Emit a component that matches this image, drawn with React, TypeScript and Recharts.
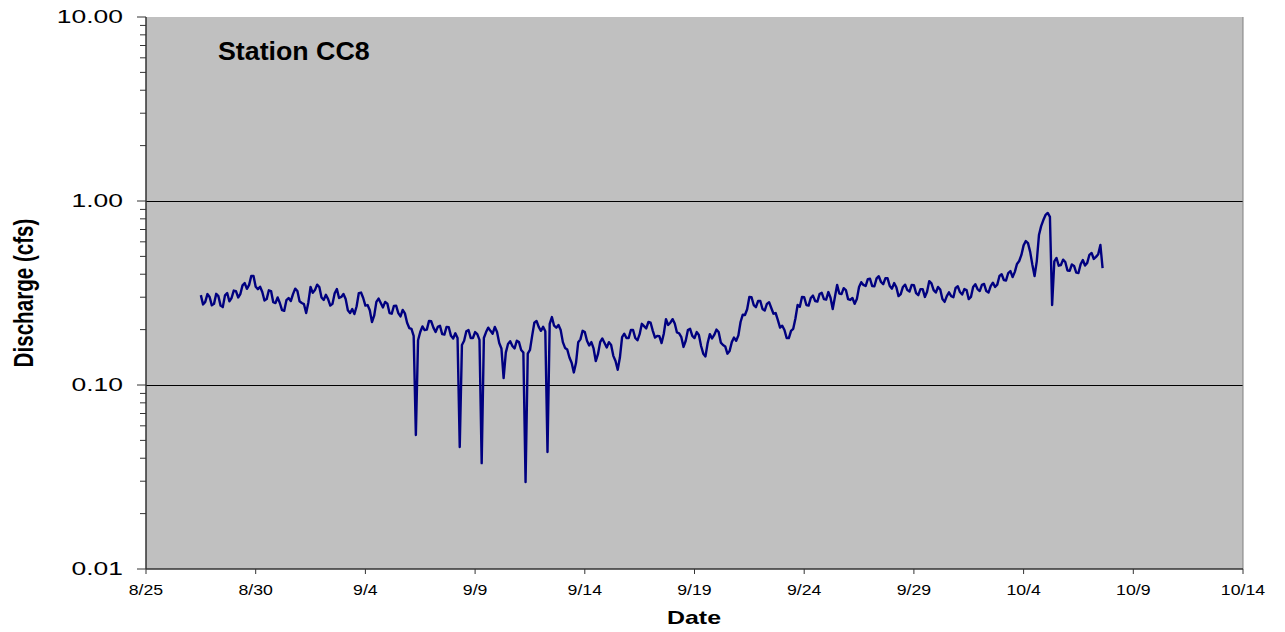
import React from 'react';
import { LineChart, Line, XAxis, YAxis, CartesianGrid, ReferenceLine, Customized } from 'recharts';

const FONT = '"Liberation Sans", Arial, Helvetica, sans-serif';

// X axis: days since 8/25
const xTickDays = [0, 5, 10, 15, 20, 25, 30, 35, 40, 45, 50];
const xTickLabels = ['8/25', '8/30', '9/4', '9/9', '9/14', '9/19', '9/24', '9/29', '10/4', '10/9', '10/14'];

// Y axis (log)
const yTicks = [
  0.01, 0.02, 0.03, 0.04, 0.05, 0.06, 0.07, 0.08, 0.09,
  0.1, 0.2, 0.3, 0.4, 0.5, 0.6, 0.7, 0.8, 0.9,
  1, 2, 3, 4, 5, 6, 7, 8, 9, 10,
];
const yMajorTicks = [0.01, 0.1, 1, 10];
const yMajorLabels = ['0.01', '0.10', '1.00', '10.00'];
const gridValues = [0.1, 1];

// Readings (cfs): first reading 8/27 12:00, main readings every 0.2 day,
// with an intermediate reading halfway between consecutive main readings.
const firstReadingDay = 2.5;
const readingStepDays = 0.2;

const dischargeAugSep = [
  0.308, 0.283, 0.301, 0.276, 0.304, 0.265, 0.316, 0.297, 0.324, 0.312,
  0.358, 0.350, 0.391, 0.332, 0.320, 0.293, 0.324, 0.279, 0.279, 0.253,
  0.297, 0.312, 0.324, 0.279, 0.246, 0.341, 0.328, 0.341, 0.290, 0.293,
  0.276, 0.332, 0.301, 0.293, 0.246, 0.243, 0.316, 0.297, 0.272, 0.220,
  0.283, 0.279, 0.283, 0.246, 0.269, 0.246, 0.256, 0.218, 0.202, 0.0535,
];
const dischargeSepEarly = [
  0.194, 0.199, 0.223, 0.205, 0.207, 0.189, 0.207, 0.185, 0.191, 0.046,
  0.174, 0.199, 0.180, 0.189, 0.0376, 0.194, 0.197, 0.207, 0.169, 0.109,
  0.167, 0.163, 0.174, 0.155, 0.0297, 0.155, 0.218, 0.207, 0.207, 0.0432,
  0.234, 0.205, 0.199, 0.159, 0.141, 0.117, 0.171, 0.197, 0.174, 0.171,
  0.135, 0.171, 0.169, 0.171, 0.144, 0.121, 0.182, 0.180, 0.199, 0.180,
];
const dischargeSepLate = [
  0.189, 0.209, 0.220, 0.197, 0.185, 0.169, 0.228, 0.218, 0.216, 0.191,
  0.161, 0.199, 0.185, 0.194, 0.163, 0.143, 0.189, 0.187, 0.194, 0.165,
  0.148, 0.171, 0.174, 0.220, 0.240, 0.301, 0.272, 0.286, 0.259, 0.276,
  0.262, 0.246, 0.205, 0.199, 0.180, 0.202, 0.272, 0.301, 0.272, 0.297,
  0.286, 0.312, 0.293, 0.320, 0.259, 0.350, 0.312, 0.328, 0.290, 0.276,
];
const dischargeSepOct = [
  0.341, 0.350, 0.376, 0.345, 0.380, 0.363, 0.380, 0.345, 0.358, 0.304,
  0.341, 0.328, 0.350, 0.316, 0.332, 0.301, 0.367, 0.328, 0.341, 0.293,
  0.304, 0.304, 0.337, 0.320, 0.332, 0.293, 0.341, 0.332, 0.350, 0.324,
  0.345, 0.341, 0.391, 0.372, 0.406, 0.386, 0.455, 0.509, 0.606, 0.529,
  0.391, 0.653, 0.788, 0.861, 0.272, 0.490, 0.449, 0.466, 0.417, 0.444,
  0.406, 0.478, 0.461, 0.522, 0.497, 0.577,
];

const midAugSep = [
  0.274, 0.312, 0.271, 0.313, 0.270, 0.307, 0.285, 0.326, 0.299, 0.348,
  0.333, 0.392, 0.342, 0.342, 0.288, 0.327, 0.282, 0.299, 0.255, 0.289,
  0.286, 0.334, 0.285, 0.275, 0.281, 0.317, 0.351, 0.299, 0.309, 0.270,
  0.315, 0.297, 0.312, 0.255, 0.259, 0.268, 0.318, 0.270, 0.255, 0.238,
  0.295, 0.264, 0.277, 0.244, 0.270, 0.236, 0.245, 0.204, 0.185, 0.175,
];
const midSepEarly = [
  0.208, 0.200, 0.222, 0.194, 0.210, 0.188, 0.206, 0.179, 0.180, 0.165,
  0.196, 0.180, 0.194, 0.176, 0.180, 0.205, 0.190, 0.194, 0.158, 0.150,
  0.173, 0.158, 0.171, 0.150, 0.148, 0.185, 0.223, 0.197, 0.196, 0.215,
  0.210, 0.212, 0.171, 0.156, 0.132, 0.132, 0.177, 0.194, 0.164, 0.158,
  0.147, 0.179, 0.160, 0.165, 0.135, 0.141, 0.190, 0.180, 0.199, 0.175,
];
const midSepLate = [
  0.215, 0.203, 0.218, 0.181, 0.184, 0.190, 0.212, 0.228, 0.193, 0.182,
  0.174, 0.202, 0.180, 0.187, 0.148, 0.169, 0.179, 0.200, 0.170, 0.162,
  0.153, 0.181, 0.186, 0.241, 0.258, 0.300, 0.265, 0.286, 0.254, 0.282,
  0.244, 0.225, 0.210, 0.180, 0.197, 0.230, 0.266, 0.300, 0.270, 0.306,
  0.284, 0.317, 0.291, 0.298, 0.301, 0.314, 0.336, 0.293, 0.297, 0.293,
];
const midSepOct = [
  0.362, 0.345, 0.378, 0.344, 0.390, 0.353, 0.380, 0.334, 0.340, 0.312,
  0.351, 0.322, 0.349, 0.308, 0.332, 0.321, 0.357, 0.318, 0.330, 0.283,
  0.319, 0.300, 0.344, 0.310, 0.328, 0.301, 0.353, 0.324, 0.354, 0.318,
  0.360, 0.351, 0.400, 0.370, 0.416, 0.412, 0.472, 0.574, 0.590, 0.450,
  0.470, 0.730, 0.840, 0.820, 0.470, 0.445, 0.480, 0.419, 0.452, 0.408,
  0.453, 0.446, 0.510, 0.484, 0.514, 0.432,
];

const discharge = [...dischargeAugSep, ...dischargeSepEarly, ...dischargeSepLate, ...dischargeSepOct];
const dischargeMid = [...midAugSep, ...midSepEarly, ...midSepLate, ...midSepOct];

const data: { day: number; q: number }[] = [];
discharge.forEach((q, i) => {
  const d = firstReadingDay + i * readingStepDays;
  data.push({ day: Math.round(d * 1000) / 1000, q });
  if (i < dischargeMid.length) {
    data.push({ day: Math.round((d + readingStepDays / 2) * 1000) / 1000, q: dischargeMid[i] });
  }
});

const AXIS_COLOR = '#333';

const YTick = (props: any) => {
  const { x, y, payload } = props;
  const v = payload.value;
  const idx = yMajorTicks.findIndex((m) => Math.abs(m - v) / m < 1e-6);
  const major = idx >= 0;
  return (
    <g>
      <line x1={x - (major ? 9 : 6)} x2={x} y1={y} y2={y} stroke={AXIS_COLOR} strokeWidth={1} />
      {major && (
        <text
          transform={`translate(${x - 23},${y}) scale(1.47,1)`}
          textAnchor="end"
          dy="0.36em"
          fontSize={18}
          fontFamily={FONT}
          fill="#000"
        >
          {yMajorLabels[idx]}
        </text>
      )}
    </g>
  );
};

const XTick = (props: any) => {
  const { x, y, payload } = props;
  const idx = xTickDays.indexOf(payload.value);
  return (
    <text
      transform={`translate(${x},${y + 21}) scale(1.18,1)`}
      textAnchor="middle"
      fontSize={15}
      fontFamily={FONT}
      fill="#000"
    >
      {idx >= 0 ? xTickLabels[idx] : ''}
    </text>
  );
};

const Titles = () => (
  <g>
    <text x={210} y={52} fontSize={26} fontWeight="bold" fontFamily={FONT} fill="#000"
      transform="translate(210,0) scale(1.03,1) translate(-210,0)">
      Station CC8
    </text>
    <text
      transform="translate(686,616) scale(1.34,1)"
      textAnchor="middle"
      fontSize={18.6}
      fontWeight="bold"
      fontFamily={FONT}
      fill="#000"
    >
      Date
    </text>
    <text
      transform="translate(25.3,285) scale(1.35,1) rotate(-90)"
      textAnchor="middle"
      fontSize={20.6}
      fontWeight="bold"
      fontFamily={FONT}
      fill="#000"
    >
      Discharge (cfs)
    </text>
  </g>
);

export default function App() {
  return (
    <div style={{ width: 1270, height: 620 }}>
      <LineChart
        width={1270}
        height={620}
        data={data}
        margin={{ top: 9, right: 35, bottom: 4, left: 0 }}
      >
        <CartesianGrid
          vertical={false}
          horizontalValues={gridValues}
          stroke="#000"
          strokeWidth={1}
          fill="#C0C0C0"
          fillOpacity={1}
          shapeRendering="crispEdges"
        />
        <XAxis
          type="number"
          dataKey="day"
          domain={[0, 50]}
          ticks={xTickDays}
          interval={0}
          height={55}
          tickSize={5}
          tickMargin={0}
          axisLine={{ stroke: AXIS_COLOR, strokeWidth: 1.5 }}
          tickLine={{ stroke: AXIS_COLOR }}
          tick={XTick}
          allowDataOverflow
        />
        <YAxis
          type="number"
          scale="log"
          domain={[0.01, 10]}
          ticks={yTicks}
          interval={0}
          width={138}
          tickSize={0}
          tickMargin={0}
          axisLine={{ stroke: AXIS_COLOR, strokeWidth: 1.5 }}
          tickLine={false}
          tick={YTick}
          allowDataOverflow
        />
        <ReferenceLine x={50} stroke="#808080" strokeWidth={1} />
        <Line
          type="linear"
          dataKey="q"
          stroke="#000080"
          strokeWidth={2.4}
          strokeLinejoin="round"
          dot={false}
          isAnimationActive={false}
        />
        <Customized component={Titles} />
      </LineChart>
    </div>
  );
}
